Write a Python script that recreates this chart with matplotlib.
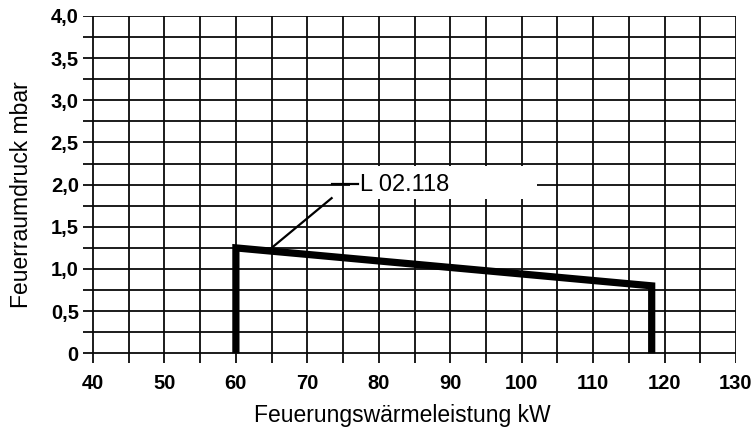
import matplotlib
matplotlib.use('Agg')
import matplotlib.pyplot as plt
from matplotlib.patches import Rectangle
import numpy as np

plt.rcParams['font.family'] = ['Liberation Sans', 'DejaVu Sans']

# Brennerarbeitsfeld L 02.118
leistung_kw = [60, 60, 118.2, 118.2]
druck_mbar = [0, 1.25, 0.80, 0]

x_ticks = [40, 50, 60, 70, 80, 90, 100, 110, 120, 130]
y_ticks = [0, 0.5, 1.0, 1.5, 2.0, 2.5, 3.0, 3.5, 4.0]
y_labels = ['0', '0,5', '1,0', '1,5', '2,0', '2,5', '3,0', '3,5', '4,0']
label_text = 'L 02.118'

fig = plt.figure(figsize=(7.52, 4.30), dpi=100)
ax = fig.add_axes([83 / 752, 1 - 363 / 430, 653 / 752, 347 / 430])

x_min, x_max = 38.6, 130
y_min, y_max = -0.115, 4.0
ax.set_xlim(x_min, x_max)
ax.set_ylim(y_min, y_max)

# grid paper
ax.hlines(np.arange(0, 4.01, 0.25), x_min, x_max, color='#0a0a0a', lw=1.3, zorder=1)
ax.vlines(np.arange(40, 130.1, 5), y_min, y_max, color='#0a0a0a', lw=1.3, zorder=1)

# white field behind the label
ax.add_patch(Rectangle((76.0, 1.83), 26.1, 0.39, facecolor='white',
                       edgecolor='none', zorder=2))

ax.plot(leistung_kw, druck_mbar, color='black', lw=5.2,
        solid_joinstyle='miter', solid_capstyle='butt', zorder=3)

# leader line to the label
ax.plot([65.0, 73.4], [1.25, 1.84], color='black', lw=1.6, zorder=4)
ax.plot([73.5, 77.1], [2.01, 2.01], color='black', lw=1.6, zorder=4)
ax.text(77.35, 2.0, label_text, fontsize=17, va='center', ha='left', zorder=5)

for s in ax.spines.values():
    s.set_visible(False)
ax.set_xticks(x_ticks)
ax.set_xticklabels([str(v) for v in x_ticks], fontweight='bold', fontsize=14.5)
ax.set_yticks(y_ticks)
ax.set_yticklabels(y_labels, fontweight='bold', fontsize=14.5)
ax.tick_params(axis='both', length=0)
ax.tick_params(axis='x', pad=8)
ax.tick_params(axis='y', pad=3)

ax.set_xlabel('Feuerungswärmeleistung kW', fontsize=16.5)
ax.xaxis.set_label_coords((402 - 83) / 653, -(404 - 363) / 347)
ax.xaxis.label.set_va('top')
ax.set_ylabel('Feuerraumdruck mbar', fontsize=16.5)
ax.yaxis.set_label_coords(-(83 - 33) / 653, (363 - 195) / 347)

fig.savefig('out.png', dpi=100)
plt.close(fig)
